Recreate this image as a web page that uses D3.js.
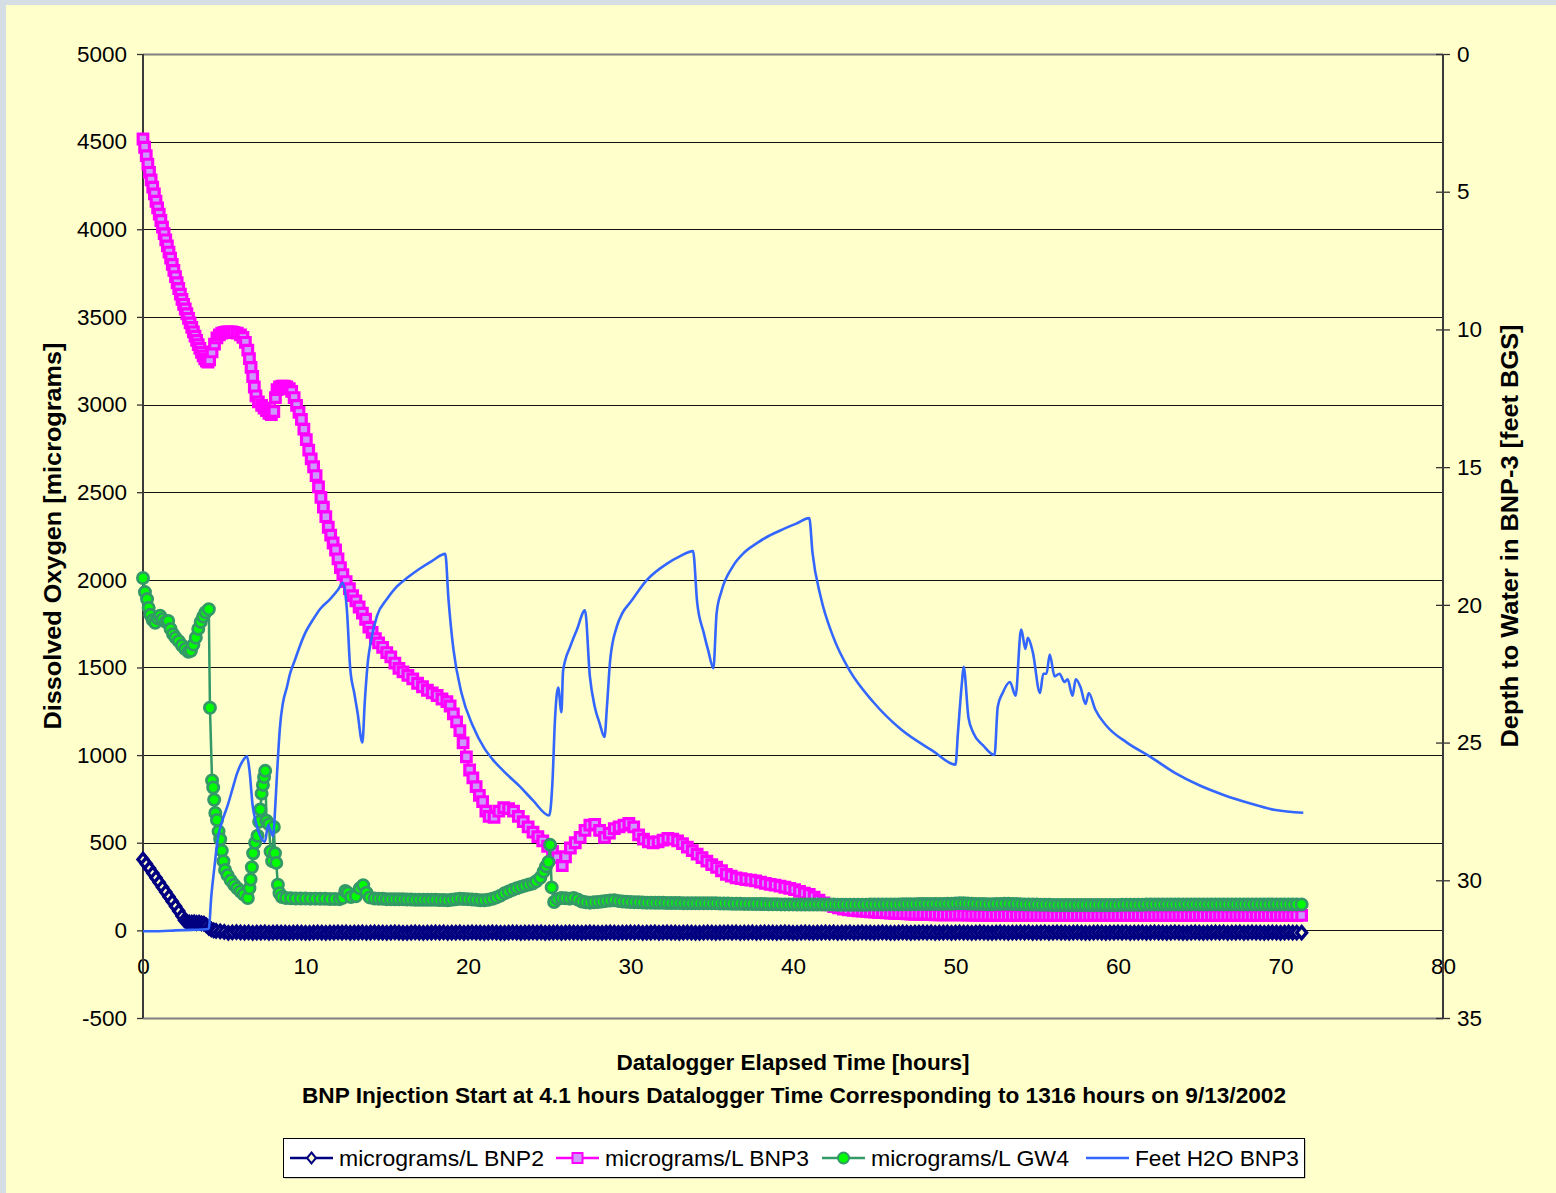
<!DOCTYPE html>
<html>
<head>
<meta charset="utf-8">
<script src="https://cdn.jsdelivr.net/npm/d3@7/dist/d3.min.js"></script>
<style>
html,body{margin:0;padding:0;background:#FFFFCC;}
svg{display:block;}
text{font-family:"Liberation Sans",Arial,Helvetica,sans-serif;fill:#000;}
</style>
</head>
<body>
<svg id="chart" width="1556" height="1193"></svg>
<script>
// ---------------- DATA ----------------
const xTickValues = [0,10,20,30,40,50,60,70,80];
const leftTickValues = [-500,0,500,1000,1500,2000,2500,3000,3500,4000,4500,5000];
const rightTickValues = [0,5,10,15,20,25,30,35];
const seriesNames = ["micrograms/L BNP2","micrograms/L BNP3","micrograms/L GW4","Feet H2O BNP3"];
const xTitle = "Datalogger Elapsed Time [hours]";
const subTitle = "BNP Injection Start at 4.1 hours Datalogger Time Corresponding to 1316 hours on 9/13/2002";
const leftTitle = "Dissolved Oxygen [micrograms]";
const rightTitle = "Depth to Water in BNP-3 [feet BGS]";

// [hours, micrograms/L]
const bnp2 = [
[0,405],[0.2,380],[0.4,354],[0.6,327],[0.8,300],[1,273],[1.2,246],[1.4,219],[1.6,192],[1.8,165],[2,138],[2.2,110],[2.4,82],[2.55,58],[2.7,48],[2.85,45],[3,44],[3.15,46],[3.3,42],[3.45,44],[3.6,40],[3.75,38],[3.9,28],[4.05,15],[4.2,6],[4.35,0],[4.5,-3],[4.75,-6],[5,-9],[5.25,-14],[5.5,-12],[5.75,-10],[6,-12],
[6.25,-13],[6.5,-12],[6.75,-14],[7,-13],[7.25,-13],[7.5,-12],[7.75,-14],[8,-13],
[8.25,-12],[8.5,-13],[8.75,-13],[9,-14],[9.25,-13],[9.5,-12],[9.75,-13],[10,-14],
[10.25,-14],[10.5,-13],[10.75,-12],[11,-13],[11.25,-14],[11.5,-13],[11.75,-13],[12,-12],
[12.25,-13],[12.5,-12],[12.75,-14],[13,-13],[13.25,-13],[13.5,-12],[13.75,-14],[14,-13],
[14.25,-12],[14.5,-13],[14.75,-13],[15,-14],[15.25,-13],[15.5,-12],[15.75,-13],[16,-14],
[16.25,-14],[16.5,-13],[16.75,-12],[17,-13],[17.25,-14],[17.5,-13],[17.75,-13],[18,-12],
[18.25,-13],[18.5,-12],[18.75,-14],[19,-13],[19.25,-13],[19.5,-12],[19.75,-14],[20,-13],
[20.25,-12],[20.5,-13],[20.75,-13],[21,-14],[21.25,-13],[21.5,-12],[21.75,-13],[22,-14],
[22.25,-14],[22.5,-13],[22.75,-12],[23,-13],[23.25,-14],[23.5,-13],[23.75,-13],[24,-12],
[24.25,-13],[24.5,-12],[24.75,-14],[25,-13],[25.25,-13],[25.5,-12],[25.75,-14],[26,-13],
[26.25,-12],[26.5,-13],[26.75,-13],[27,-14],[27.25,-13],[27.5,-12],[27.75,-13],[28,-14],
[28.25,-14],[28.5,-13],[28.75,-12],[29,-13],[29.25,-14],[29.5,-13],[29.75,-13],[30,-12],
[30.25,-13],[30.5,-12],[30.75,-14],[31,-13],[31.25,-13],[31.5,-12],[31.75,-14],[32,-13],
[32.25,-12],[32.5,-13],[32.75,-13],[33,-14],[33.25,-13],[33.5,-12],[33.75,-13],[34,-14],
[34.25,-14],[34.5,-13],[34.75,-12],[35,-13],[35.25,-14],[35.5,-13],[35.75,-13],[36,-12],
[36.25,-13],[36.5,-12],[36.75,-14],[37,-13],[37.25,-13],[37.5,-12],[37.75,-14],[38,-13],
[38.25,-12],[38.5,-13],[38.75,-13],[39,-14],[39.25,-13],[39.5,-12],[39.75,-13],[40,-14],
[40.25,-14],[40.5,-13],[40.75,-12],[41,-13],[41.25,-14],[41.5,-13],[41.75,-13],[42,-12],
[42.25,-13],[42.5,-12],[42.75,-14],[43,-13],[43.25,-13],[43.5,-12],[43.75,-14],[44,-13],
[44.25,-12],[44.5,-13],[44.75,-13],[45,-14],[45.25,-13],[45.5,-12],[45.75,-13],[46,-14],
[46.25,-14],[46.5,-13],[46.75,-12],[47,-13],[47.25,-14],[47.5,-13],[47.75,-13],[48,-12],
[48.25,-13],[48.5,-12],[48.75,-14],[49,-13],[49.25,-13],[49.5,-12],[49.75,-14],[50,-13],
[50.25,-12],[50.5,-13],[50.75,-13],[51,-14],[51.25,-13],[51.5,-12],[51.75,-13],[52,-14],
[52.25,-14],[52.5,-13],[52.75,-12],[53,-13],[53.25,-14],[53.5,-13],[53.75,-13],[54,-12],
[54.25,-13],[54.5,-12],[54.75,-14],[55,-13],[55.25,-13],[55.5,-12],[55.75,-14],[56,-13],
[56.25,-12],[56.5,-13],[56.75,-13],[57,-14],[57.25,-13],[57.5,-12],[57.75,-13],[58,-14],
[58.25,-14],[58.5,-13],[58.75,-12],[59,-13],[59.25,-14],[59.5,-13],[59.75,-13],[60,-12],
[60.25,-13],[60.5,-12],[60.75,-14],[61,-13],[61.25,-13],[61.5,-12],[61.75,-14],[62,-13],
[62.25,-12],[62.5,-13],[62.75,-13],[63,-14],[63.25,-13],[63.5,-12],[63.75,-13],[64,-14],
[64.25,-14],[64.5,-13],[64.75,-12],[65,-13],[65.25,-14],[65.5,-13],[65.75,-13],[66,-12],
[66.25,-13],[66.5,-12],[66.75,-14],[67,-13],[67.25,-13],[67.5,-12],[67.75,-14],[68,-13],
[68.25,-12],[68.5,-13],[68.75,-13],[69,-14],[69.25,-13],[69.5,-12],[69.75,-13],[70,-14],
[70.25,-13],[70.5,-12],[70.75,-13],[71,-13],[71.3,-13]
];

const bnp3 = [
[0,4515],[0.1,4468],[0.2,4420],[0.3,4372],[0.4,4325],[0.5,4282],[0.6,4240],[0.7,4202],[0.8,4160],[0.9,4122],[1,4086],[1.1,4050],[1.2,4012],[1.3,3975],[1.4,3940],[1.5,3905],[1.6,3870],[1.7,3835],[1.8,3800],[1.9,3765],[2,3730],[2.1,3695],[2.2,3662],[2.3,3630],[2.4,3600],[2.5,3572],[2.6,3545],[2.7,3518],[2.8,3492],[2.9,3466],[3,3440],[3.1,3415],[3.2,3390],[3.3,3366],[3.4,3342],[3.5,3320],[3.6,3298],[3.7,3278],[3.8,3260],[3.9,3248],[4,3242],[4.1,3255],[4.25,3300],[4.4,3345],[4.55,3380],[4.7,3398],[4.85,3407],[5,3412],[5.15,3414],[5.3,3415],[5.45,3414],[5.6,3412],[5.8,3408],[6,3398],[6.15,3383],[6.3,3355],[6.45,3310],[6.55,3262],[6.65,3212],[6.75,3160],[6.85,3100],[6.95,3050],[7.1,3015],[7.3,2995],[7.45,2980],[7.6,2965],[7.75,2950],[7.9,2942],[8.05,2960],[8.15,3040],[8.25,3085],[8.4,3100],[8.55,3105],[8.7,3105],[8.85,3100],[9,3090],[9.15,3075],[9.3,3040],[9.45,2995],[9.6,2955],[9.75,2915],[9.9,2860],[10.05,2800],[10.2,2740],[10.35,2690],[10.5,2645],[10.65,2595],[10.8,2530],[10.95,2470],[11.1,2415],[11.25,2360],[11.4,2300],[11.55,2255],[11.7,2210],[11.85,2170],[12,2120],[12.15,2070],[12.3,2030],[12.5,1990],[12.7,1950],[12.9,1910],[13.1,1880],[13.3,1845],[13.5,1810],[13.7,1775],[13.9,1730],[14.1,1700],[14.3,1665],[14.5,1640],[14.75,1615],[15,1585],[15.25,1560],[15.5,1525],[15.75,1495],[16,1475],[16.3,1455],[16.6,1435],[16.9,1410],[17.2,1390],[17.5,1370],[17.8,1355],[18.1,1340],[18.4,1320],[18.7,1305],[18.9,1280],[19.1,1235],[19.3,1190],[19.5,1140],[19.7,1070],[19.9,990],[20.1,915],[20.3,870],[20.5,820],[20.7,770],[20.9,735],[21.1,680],[21.3,650],[21.6,645],[21.9,680],[22.2,700],[22.5,695],[22.8,680],[23.1,650],[23.4,620],[23.7,590],[24,560],[24.3,535],[24.6,510],[24.9,480],[25.2,450],[25.5,415],[25.8,370],[26,420],[26.3,470],[26.6,500],[26.9,530],[27.2,570],[27.5,600],[27.8,605],[28.1,570],[28.4,530],[28.7,555],[29,580],[29.3,590],[29.6,600],[29.9,610],[30.2,590],[30.5,545],[30.8,520],[31.1,505],[31.4,500],[31.7,505],[32,515],[32.3,525],[32.6,520],[32.9,510],[33.2,495],[33.5,475],[33.8,455],[34.1,435],[34.4,415],[34.7,395],[35,375],[35.3,360],[35.6,340],[35.9,320],[36.2,310],[36.5,300],[36.8,295],[37.1,290],[37.4,287],[37.7,282],[38,275],[38.3,268],[38.6,262],[38.9,258],[39.2,252],[39.5,246],[39.8,240],[40.1,232],[40.4,222],[40.7,213],[41,205],[41.3,190],[41.6,172],[41.9,157],[42.2,145],[42.5,135],[42.8,128],[43.1,122],[43.4,117],[43.7,114],[44,112],
[44.25,110],[44.5,108],[44.75,106],[45,104],[45.25,103],[45.5,101],[45.75,100],[46,98],
[46.25,97],[46.5,96],[46.75,95],[47,94],[47.25,93],[47.5,92],[47.75,92],[48,91],
[48.25,90],[48.5,90],[48.75,89],[49,89],[49.25,88],[49.5,88],[49.75,88],[50,88],
[50.25,89],[50.5,88],[50.75,87],[51,87],[51.25,87],[51.5,86],[51.75,86],[52,86],
[52.25,86],[52.5,86],[52.75,85],[53,85],[53.25,86],[53.5,85],[53.75,85],[54,85],
[54.25,85],[54.5,85],[54.75,85],[55,85],[55.25,84],[55.5,85],[55.75,84],[56,84],
[56.25,84],[56.5,84],[56.75,84],[57,84],[57.25,84],[57.5,84],[57.75,84],[58,84],
[58.25,84],[58.5,84],[58.75,84],[59,84],[59.25,84],[59.5,84],[59.75,84],[60,84],
[60.25,84],[60.5,84],[60.75,84],[61,84],[61.25,84],[61.5,84],[61.75,84],[62,84],
[62.25,84],[62.5,84],[62.75,84],[63,84],[63.25,84],[63.5,84],[63.75,84],[64,84],
[64.25,84],[64.5,84],[64.75,84],[65,84],[65.25,84],[65.5,84],[65.75,84],[66,84],
[66.25,84],[66.5,84],[66.75,84],[67,84],[67.25,84],[67.5,84],[67.75,84],[68,84],
[68.25,84],[68.5,84],[68.75,84],[69,84],[69.25,84],[69.5,84],[69.75,84],[70,84],
[70.25,84],[70.5,84],[70.75,84],[71,84],[71.3,85]
];

const gw4 = [
[0,2010],[0.12,1930],[0.25,1890],[0.35,1840],[0.45,1800],[0.6,1770],[0.75,1755],[0.9,1780],[1.05,1795],[1.2,1775],[1.4,1760],[1.55,1765],[1.7,1720],[1.85,1690],[2,1670],[2.2,1650],[2.4,1625],[2.6,1605],[2.8,1590],[2.95,1595],[3.1,1630],[3.25,1670],[3.4,1720],[3.55,1760],[3.7,1790],[3.85,1815],[4.05,1832],[4.12,1270],[4.25,855],[4.32,815],[4.38,745],[4.45,670],[4.55,630],[4.65,565],[4.75,520],[4.85,455],[4.95,395],[5.05,345],[5.2,315],[5.4,285],[5.6,260],[5.8,240],[6,222],[6.2,205],[6.45,185],[6.55,240],[6.62,290],[6.7,360],[6.78,440],[6.9,500],[7.05,540],[7.15,620],[7.22,690],[7.3,780],[7.38,830],[7.45,875],[7.52,910],[7.6,625],[7.75,605],[7.85,450],[7.95,395],[8.05,590],[8.12,440],[8.2,385],[8.3,260],[8.4,212],[8.55,190],[8.8,185],[9.1,183],[9.4,182],[9.7,182],[10,182],[10.3,181],[10.6,181],[10.9,180],[11.2,180],[11.5,179],[11.8,179],[12.1,178],[12.3,186],[12.45,225],[12.6,215],[12.8,190],[13.1,195],[13.35,240],[13.55,258],[13.75,215],[13.95,188],[14.25,182],[14.5,181],[14.75,180],[15,178],[15.25,178],[15.5,177],[15.75,177],[16,177],[16.25,176],[16.5,176],[16.75,175],[17,175],[17.25,175],[17.5,174],[17.75,174],[18,174],[18.25,173],[18.5,173],[18.75,172],[19,174],[19.25,177],[19.5,180],[19.75,179],[20,178],[20.25,176],[20.5,174],[20.75,172],[21,172],[21.25,175],[21.5,180],[21.75,188],[22,198],[22.25,212],[22.5,222],[22.75,232],[23,240],[23.25,248],[23.5,255],[23.75,262],[24,268],[24.2,280],[24.45,300],[24.65,335],[24.8,365],[24.95,390],[25.05,488],[25.15,245],[25.3,162],[25.5,178],[25.75,185],[26,183],[26.25,181],[26.5,185],[26.75,176],[27,165],[27.25,160],[27.5,158],[27.75,160],[28,162],[28.25,165],[28.5,168],[28.75,170],[29,172],[29.25,168],[29.5,165],[29.75,163],[30,162],[30.25,161],[30.5,160],[30.75,159],[31,158],
[31.25,158],[31.5,157],[31.75,157],[32,157],[32.25,156],[32.5,156],[32.75,156],[33,156],
[33.25,155],[33.5,155],[33.75,155],[34,155],[34.25,155],[34.5,154],[34.75,154],[35,154],
[35.25,154],[35.5,153],[35.75,153],[36,153],[36.25,152],[36.5,152],[36.75,152],[37,151],
[37.25,151],[37.5,151],[37.75,150],[38,150],[38.25,150],[38.5,149],[38.75,149],[39,149],
[39.25,148],[39.5,148],[39.75,148],[40,148],[40.25,147],[40.5,147],[40.75,147],[41,147],
[41.25,147],[41.5,147],[41.75,147],[42,147],[42.25,147],[42.5,147],[42.75,146],[43,146],
[43.25,146],[43.5,146],[43.75,146],[44,146],[44.25,146],[44.5,146],[44.75,147],[45,147],
[45.25,147],[45.5,147],[45.75,148],[46,148],[46.25,148],[46.5,148],[46.75,149],[47,149],
[47.25,149],[47.5,149],[47.75,150],[48,150],[48.25,150],[48.5,150],[48.75,151],[49,151],
[49.25,151],[49.5,152],[49.75,152],[50,153],[50.25,154],[50.5,154],[50.75,153],[51,152],
[51.25,151],[51.5,150],[51.75,150],[52,149],[52.25,149],[52.5,150],[52.75,151],[53,152],
[53.25,152],[53.5,151],[53.75,150],[54,149],[54.25,148],[54.5,148],[54.75,147],[55,147],
[55.25,146],[55.5,146],[55.75,146],[56,145],[56.25,145],[56.5,145],[56.75,145],[57,145],
[57.25,145],[57.5,145],[57.75,145],[58,145],[58.25,145],[58.5,145],[58.75,145],[59,145],
[59.25,145],[59.5,145],[59.75,145],[60,145],[60.25,146],[60.5,146],[60.75,146],[61,146],
[61.25,146],[61.5,146],[61.75,147],[62,147],[62.25,147],[62.5,147],[62.75,147],[63,147],
[63.25,147],[63.5,147],[63.75,147],[64,148],[64.25,148],[64.5,148],[64.75,148],[65,148],
[65.25,148],[65.5,148],[65.75,148],[66,148],[66.25,148],[66.5,148],[66.75,148],[67,148],
[67.25,148],[67.5,148],[67.75,148],[68,148],[68.25,148],[68.5,148],[68.75,148],[69,148],
[69.25,148],[69.5,148],[69.75,148],[70,148],[70.25,148],[70.5,148],[70.75,148],[71,148],[71.3,148]
];

// [hours, feet below ground surface]
const feetBnp3 = [
[0,31.85],[1,31.85],[2,31.82],[3,31.8],[3.9,31.78],[4.05,31.75],[4.2,30.6],[4.4,29.5],[4.6,28.5],[4.9,27.8],[5.2,27.3],[5.5,26.7],[5.8,26.1],[6.1,25.7],[6.4,25.5],[6.55,26],[6.75,27.3],[6.95,27.9],[7.15,28.3],[7.5,28.6],[7.7,28],[7.85,28.2],[8,28.4],[8.15,27.2],[8.25,26.1],[8.35,25.1],[8.45,24.3],[8.6,23.6],[8.85,23],[9.05,22.5],[9.35,22],[9.65,21.5],[10,21],[10.5,20.5],[10.9,20.15],[11.5,19.8],[12,19.45],[12.3,19.2],[12.55,20.2],[12.75,22.3],[13,23.2],[13.2,23.9],[13.5,25],[13.65,23.5],[13.85,22],[14,21.4],[14.4,20.4],[15,19.8],[15.6,19.35],[16.3,19],[17,18.7],[17.8,18.4],[18.6,18.15],[18.8,19.8],[19.1,21.6],[19.6,23.2],[20.3,24.4],[21,25.2],[21.5,25.6],[22.3,26.1],[23.2,26.6],[24,27.1],[25,27.65],[25.2,26.4],[25.35,24.2],[25.55,23],[25.75,23.9],[25.85,22.4],[26.3,21.5],[26.7,20.9],[27.2,20.2],[27.5,22.6],[27.8,23.7],[28.1,24.3],[28.4,24.8],[28.55,23.7],[28.75,22],[29.15,20.8],[29.5,20.3],[30,19.9],[31,19.1],[32.25,18.5],[33,18.25],[33.85,18.05],[34.1,19.9],[34.5,21],[34.8,21.7],[35.1,22.3],[35.3,20.3],[35.6,19.5],[36.3,18.6],[37,18.1],[37.8,17.75],[38.5,17.5],[39.4,17.25],[40.2,17.05],[41,16.85],[41.2,18.1],[41.7,19.7],[42.5,21.2],[43.5,22.4],[44.9,23.5],[46.6,24.5],[48.6,25.3],[50,25.8],[50.15,24.65],[50.4,22.8],[50.5,22.25],[50.8,24.1],[51.1,24.65],[51.7,25.1],[52.4,25.45],[52.6,23.7],[52.9,23.2],[53.35,22.8],[53.7,23.3],[54,21],[54.05,20.9],[54.3,21.6],[54.45,21.2],[54.75,21.7],[55.2,23.2],[55.4,22.5],[55.6,22.5],[55.8,21.8],[56.1,22.6],[56.4,22.5],[56.7,22.8],[56.9,22.7],[57.2,23.3],[57.4,22.7],[57.7,23],[58,23.6],[58.2,23.2],[58.6,23.8],[59.3,24.4],[60.55,25],[61.95,25.5],[63.5,26.1],[65,26.55],[66.5,26.9],[68.1,27.2],[69.7,27.45],[71.4,27.55]
];

// ---------------- DRAWING ----------------
const W = 1556, H = 1193;
const svg = d3.select("#chart");
const FONT = "'Liberation Sans', Arial, Helvetica, sans-serif";
const plainFmt = d => String(d);

svg.append("rect").attr("width", W).attr("height", H).attr("fill", "#D5DEE4");
svg.append("rect").attr("x", 6).attr("y", 5).attr("width", W - 6).attr("height", H - 5).attr("fill", "#FFFFCC");

const plotL = 143, plotR = 1443, plotT = 54, plotB = 1018;
const x = d3.scaleLinear().domain([0, 80]).range([plotL, plotR]);
const yL = d3.scaleLinear().domain([-500, 5000]).range([plotB, plotT]);
const yR = d3.scaleLinear().domain([0, 35]).range([plotT, plotB]);

// gridlines
svg.append("g").selectAll("line").data(leftTickValues).join("line")
  .attr("x1", plotL).attr("x2", plotR)
  .attr("y1", d => Math.round(yL(d)) + 0.5).attr("y2", d => Math.round(yL(d)) + 0.5)
  .attr("stroke", d => (d === 5000 || d === -500) ? "#808080" : "#111")
  .attr("stroke-width", d => (d === 5000 || d === -500) ? 2 : 1.2);

// x axis (labels only; crosses at 0)
const gx = svg.append("g").attr("transform", `translate(0,${yL(0)})`)
  .call(d3.axisBottom(x).tickValues(xTickValues).tickSize(0).tickPadding(28).tickFormat(plainFmt));
gx.select(".domain").remove();
gx.attr("font-family", FONT).attr("font-size", 22.5);
gx.selectAll("text").attr("fill", "#000");

// left axis
const gl = svg.append("g").attr("transform", `translate(${plotL},0)`)
  .call(d3.axisLeft(yL).tickValues(leftTickValues).tickSize(6).tickPadding(10).tickFormat(plainFmt));
gl.select(".domain").remove();
gl.attr("font-family", FONT).attr("font-size", 22.5);
gl.selectAll("line").attr("stroke", "#333").attr("stroke-width", 1.3);
gl.selectAll("text").attr("fill", "#000");

// right axis
const gr = svg.append("g").attr("transform", `translate(${plotR},0)`)
  .call(d3.axisRight(yR).tickValues(rightTickValues).tickSize(7).tickPadding(7).tickFormat(plainFmt));
gr.select(".domain").remove();
gr.attr("font-family", FONT).attr("font-size", 22.5);
gr.selectAll("line").attr("x1", -7).attr("stroke", "#333").attr("stroke-width", 1.3);
gr.selectAll("text").attr("fill", "#000");

// axis lines
svg.append("line").attr("x1", plotL).attr("x2", plotL).attr("y1", plotT).attr("y2", plotB)
  .attr("stroke", "#3a3a3a").attr("stroke-width", 2);
svg.append("line").attr("x1", plotR).attr("x2", plotR).attr("y1", plotT).attr("y2", plotB)
  .attr("stroke", "#3a3a3a").attr("stroke-width", 2);

// markers
const markers = {
  diamond: { d: "M0,-6L5,0L0,6L-5,0Z", fill: "#FFFFCC", stroke: "#000080", sw: 3.4 },
  square:  { d: "M-4.8,-4.8H4.8V4.8H-4.8Z", fill: "#CC99FF", stroke: "#FF00FF", sw: 3.2 },
  circle:  { d: d3.symbol(d3.symbolCircle, Math.PI * 5.6 * 5.6)(), fill: "#00FF00", stroke: "#339966", sw: 2.8 }
};

const series = [
  { name: seriesNames[0], data: bnp2, y: yL, color: "#000080", width: 2.5, marker: markers.diamond, curve: d3.curveLinear },
  { name: seriesNames[1], data: bnp3, y: yL, color: "#FF00FF", width: 2.5, marker: markers.square, curve: d3.curveLinear },
  { name: seriesNames[2], data: gw4,  y: yL, color: "#339966", width: 2.5, marker: markers.circle, curve: d3.curveLinear },
  { name: seriesNames[3], data: feetBnp3, y: yR, color: "#3366FF", width: 2.6, marker: null, curve: d3.curveMonotoneX }
];

const gSeries = svg.append("g");
series.forEach(s => {
  const line = d3.line().x(d => x(d[0])).y(d => s.y(d[1])).curve(s.curve);
  gSeries.append("path").datum(s.data).attr("d", line)
    .attr("fill", "none").attr("stroke", s.color).attr("stroke-width", s.width)
    .attr("stroke-linejoin", "round");
  if (s.marker) {
    gSeries.append("g").selectAll("path").data(s.data).join("path")
      .attr("transform", d => `translate(${x(d[0])},${s.y(d[1])})`)
      .attr("d", s.marker.d)
      .attr("fill", s.marker.fill).attr("stroke", s.marker.stroke).attr("stroke-width", s.marker.sw);
  }
});

// axis titles
svg.append("text").attr("transform", "translate(61,536) rotate(-90)")
  .attr("text-anchor", "middle").attr("font-family", FONT).attr("font-weight", "bold")
  .attr("font-size", 23).attr("textLength", 387).attr("lengthAdjust", "spacingAndGlyphs").text(leftTitle);
svg.append("text").attr("transform", "translate(1518,536) rotate(-90)")
  .attr("text-anchor", "middle").attr("font-family", FONT).attr("font-weight", "bold")
  .attr("font-size", 23).attr("textLength", 423).attr("lengthAdjust", "spacingAndGlyphs").text(rightTitle);
svg.append("text").attr("x", 793).attr("y", 1070)
  .attr("text-anchor", "middle").attr("font-family", FONT).attr("font-weight", "bold")
  .attr("font-size", 22.5).attr("textLength", 353).attr("lengthAdjust", "spacingAndGlyphs").text(xTitle);
svg.append("text").attr("x", 794).attr("y", 1103)
  .attr("text-anchor", "middle").attr("font-family", FONT).attr("font-weight", "bold")
  .attr("font-size", 22.5).attr("textLength", 984).attr("lengthAdjust", "spacingAndGlyphs").text(subTitle);

// legend
const lg = svg.append("g");
lg.append("rect").attr("x", 284.5).attr("y", 1139.5).attr("width", 1021).attr("height", 39)
  .attr("fill", "#A0A0A0");
lg.append("rect").attr("x", 283.5).attr("y", 1138.5).attr("width", 1021).attr("height", 39)
  .attr("fill", "#FFFFFF").attr("stroke", "#000").attr("stroke-width", 1);
const legendStarts = [290, 556, 822, 1086];
const legendTextW = [205, 204, 198, 164];
const legendMarker = {
  diamond: { d: "M0,-5.5L4.5,0L0,5.5L-4.5,0Z", sw: 2 },
  square:  { d: "M-5,-5H5V5H-5Z", sw: 2 },
  circle:  { d: d3.symbol(d3.symbolCircle, Math.PI * 5.5 * 5.5)(), sw: 2 }
};
const legendKeys = ["diamond", "square", "circle", null];
series.forEach((s, i) => {
  const x0 = legendStarts[i], yy = 1158;
  lg.append("line").attr("x1", x0).attr("x2", x0 + 43).attr("y1", yy).attr("y2", yy)
    .attr("stroke", s.color).attr("stroke-width", Math.min(s.width, 2.5));
  if (s.marker) {
    const lm = legendMarker[legendKeys[i]];
    lg.append("path").attr("transform", `translate(${x0 + 21.5},${yy})`).attr("d", lm.d)
      .attr("fill", s.marker.fill).attr("stroke", s.marker.stroke).attr("stroke-width", lm.sw);
  }
  lg.append("text").attr("x", x0 + 49).attr("y", 1166).attr("font-family", FONT).attr("font-size", 22.5)
    .attr("textLength", legendTextW[i]).attr("lengthAdjust", "spacingAndGlyphs").text(s.name);
});
</script>
</body>
</html>
